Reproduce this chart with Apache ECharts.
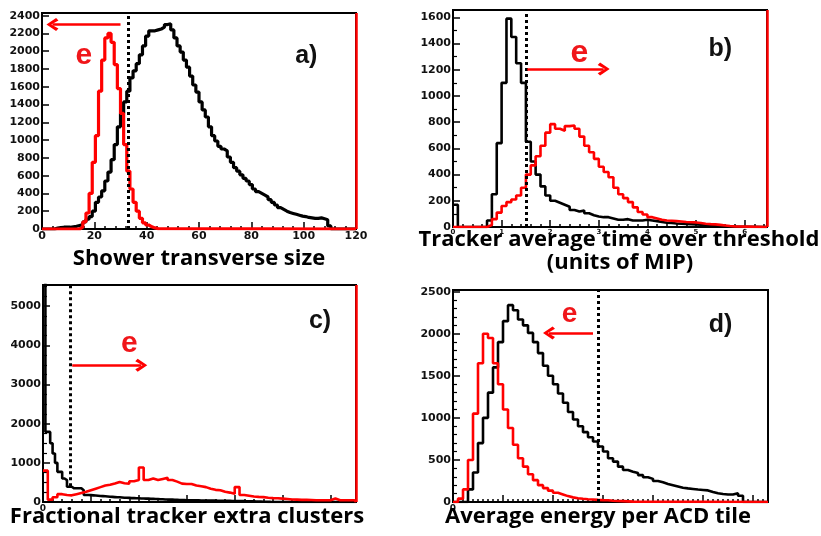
<!DOCTYPE html>
<html><head><meta charset="utf-8">
<script src="https://cdn.jsdelivr.net/npm/echarts@6/dist/echarts.min.js"></script>
<style>html,body{margin:0;padding:0;background:#fff}#c{width:821px;height:536px}</style>
</head><body><div id="c"></div><script>
// ---------- DATA ----------
// Panel a: Shower transverse size
const aXMax = 120, aYMax = 2430, aCut = 33;
const aBlackStart = 4.8, aBlackW = 1.2;
const aBlack = [10,15,20,20,20,25,30,40,
  50,80,110,140,200,300,360,430,540,640,
  780,950,1150,1300,1430,1550,1700,1780,1860,1960,
  2060,2170,2230,2230,2240,2250,2270,2300,2310,2240,
  2150,2060,1990,1900,1820,1720,1620,1540,1430,1340,
  1260,1150,1050,990,930,900,880,810,750,690,
  650,610,570,540,500,450,420,400,380,360,
  330,300,270,240,220,200,185,175,165,155,
  145,140,130,125,120,120,125,115,105,35];
const aRedStart = 14.4, aRedW = 1.2;
const aRed = [20,80,180,400,750,1050,1550,1900,2150,2200,2100,1850,1580,1300,950,650,450,300,200,120,70,45,25,12,5];

// Panel b: Tracker average time over threshold
const bXMax = 6.46, bYMax = 1656, bCut = 1.5;
const bBlackStart = 0, bBlackW = 0.1;
const bBlack = [170,0,0,0,0,0,0,50,250,640,1100,1590,1450,1250,1100,650,500,400,310,240,
  200,185,170,155,130,118,125,105,90,80,75,75,65,55,55,60,50,50,50,55,
  50,45,38,32,30,27,25,23,21,20,18,15,13,10,8,5,3];
const bRedStart = 0, bRedW = 0.1;
const bRed = [0,0,0,0,0,0,0,15,60,110,160,190,210,240,300,400,470,540,620,720,
  785,750,735,770,775,750,690,620,570,520,460,420,380,300,250,220,190,150,115,95,
  75,65,55,50,48,45,42,38,36,35,30,25,22,20,16,12,8,5];

// Panel c: Fractional tracker extra clusters
const cXMax = 0.653, cYMax = 5540, cCut = 0.057, cCutLow = 400;
const cBlackStart = 0, cBlackW = 0.005;
const cBlack = [5800,1790,1790,1500,1240,1000,770,770,600,560,
  390,390,350,350,350,350,300,180,180,175,
  170,165,160,155,150,145,140,135,130,125,
  120,120,115,110,110,105,100,100,95,95,
  90,90,85,85,80,80,75,75,70,70,
  65,65,60,60,55,55,50,50,48,46,
  45,44,43,42,41,40,39,38,37,36,
  35,34,33,32,31,30,29,28,27,26,
  25,24,23,22,21,20,18,16,14,12,
  10,8,6,4,2];
const cRedStart = 0, cRedW = 0.01;
const cRed = [800,60,120,200,180,170,200,230,260,300,
  340,380,420,440,470,510,480,470,530,560,
  880,560,600,560,590,620,560,520,470,460,
  460,420,400,380,340,310,300,260,240,210,
  380,180,160,140,130,125,110,100,95,85,
  75,65,60,55,55,50,45,45,45,45,
  90,45,45,45,45];

// Panel d: Average energy per ACD tile
const dXMax = 6.3, dYMax = 2520, dCut = 2.9;
const dBlackStart = 0, dBlackW = 0.1;
const dBlack = [0,0,0,150,350,700,1000,1300,1600,1900,
  2150,2340,2280,2170,2100,2010,1900,1770,1620,1500,
  1400,1290,1180,1070,980,900,830,770,720,660,
  600,520,480,420,380,360,345,320,295,275,
  250,235,215,200,185,170,162,155,148,143,
  138,120,105,95,89,89,105,75];
const dRedStart = 0, dRedW = 0.1;
const dRed = [0,40,150,500,1050,1650,2000,1950,1650,1400,
  1100,880,680,520,420,330,260,200,165,135,
  110,90,70,55,45,38,33,30,25,22,
  20,15,12,10,8,5];

const titles = [
  {text: 'Shower transverse size', cx: 199, y: 248},
  {text: 'Tracker average time over threshold', cx: 619, y: 229},
  {text: '(units of MIP)', cx: 620, y: 252},
  {text: 'Fractional tracker extra clusters', cx: 187, y: 506},
  {text: 'Average energy per ACD tile', cx: 598, y: 506}
];

// ---------- BUILD ----------
function hist(start, w, vals, xmin, xmax) {
  const pts = [];
  if (start > xmin) pts.push([xmin, 0]);
  vals.forEach((v, i) => pts.push([+(start + i * w).toFixed(6), v]));
  const end = +(start + vals.length * w).toFixed(6);
  pts.push([end, 0]);
  if (end < xmax) pts.push([xmax, 0]);
  return pts;
}
const RED = '#ff0000', BLK = '#000000';
const chevron = 'path://M0,10 L8,0 L16,10 L13,12.5 L8,5 L3,12.5 Z';
const tickFont = {fontFamily: 'DejaVu Sans', fontWeight: 'bold', fontSize: 11, color: '#111'};

const panels = [
  {grid: {left: 42, top: 13, width: 314, height: 216}, xMax: aXMax, yMax: aYMax,
   xInt: 20, xMinor: 5, yInt: 200, yMinor: 1, xLabel: v => (v % 20 === 0 ? String(v) : ''), xFont: 11,
   yLabel: v => (v % 200 === 0 ? String(v) : ''),
   black: hist(aBlackStart, aBlackW, aBlack, 0, aXMax), red: hist(aRedStart, aRedW, aRed, 0, aXMax),
   cut: [[{coord: [aCut, 0]}, {coord: [aCut, aYMax]}]], redEdge: true,
   arrow: [[aCut - 3, 2300], [4, 2300]], e: [16, 1950, 30], tag: ['a)', 101, 1950], lw: 3.2},
  {grid: {left: 453, top: 10, width: 314, height: 217}, xMax: bXMax, yMax: bYMax,
   xInt: 1, xMinor: 5, yInt: 200, yMinor: 2, xLabel: v => (Math.abs(v - Math.round(v)) < 1e-6 ? String(Math.round(v)) : ''), xFont: 7,
   yLabel: v => (v % 200 === 0 ? String(v) : ''),
   black: hist(bBlackStart, bBlackW, bBlack, 0, bXMax), red: hist(bRedStart, bRedW, bRed, 0, bXMax),
   cut: [[{coord: [bCut, 0]}, {coord: [bCut, bYMax]}]], redEdge: true,
   arrow: [[bCut + 0.03, 1205], [3.1, 1205]], e: [2.6, 1330, 32], tag: ['b)', 5.5, 1360], lw: 2.6},
  {grid: {left: 43, top: 285, width: 313, height: 217}, xMax: cXMax, yMax: cYMax,
   xInt: 0.1, xMinor: 5, yInt: 1000, yMinor: 4, xLabel: v => (v === 0 ? '0' : ''), xFont: 9,
   yLabel: v => (v % 1000 === 0 ? String(v) : ''),
   black: hist(cBlackStart, cBlackW, cBlack, 0, cXMax), red: hist(cRedStart, cRedW, cRed, 0, cXMax),
   cut: [[{coord: [cCut, cCutLow]}, {coord: [cCut, cYMax]}]], redEdge: true,
   arrow: [[cCut + 0.004, 3490], [0.205, 3490]], e: [0.18, 4050, 30], tag: ['c)', 0.578, 4620], lw: 2.6},
  {grid: {left: 453, top: 290, width: 315, height: 212}, xMax: dXMax, yMax: dYMax,
   xInt: 1, xMinor: 10, yInt: 500, yMinor: 5, xLabel: v => (v === 0 ? '0' : ''), xFont: 9,
   yLabel: v => (v % 500 === 0 ? String(v) : ''),
   black: hist(dBlackStart, dBlackW, dBlack, 0, dXMax), red: hist(dRedStart, dRedW, dRed, 0, dXMax),
   cut: [[{coord: [dCut, 0]}, {coord: [dCut, dYMax]}]], redEdge: false,
   arrow: [[2.8, 2010], [1.92, 2010]], e: [2.33, 2230, 28], tag: ['d)', 5.35, 2105], lw: 2.6}
];

const option = {animation: false, grid: [], xAxis: [], yAxis: [], series: [], graphic: []};
panels.forEach((p, i) => {
  option.grid.push(Object.assign({show: true, borderColor: BLK, borderWidth: 2, backgroundColor: 'transparent'}, p.grid));
  option.xAxis.push({type: 'value', gridIndex: i, min: 0, max: p.xMax, interval: p.xInt,
    axisLine: {show: true, onZero: false, lineStyle: {color: BLK, width: 2}},
    axisTick: {show: true, inside: true, length: 7, lineStyle: {color: BLK, width: 1.5}},
    minorTick: {show: true, splitNumber: p.xMinor, length: 3, lineStyle: {color: BLK, width: 1.5}},
    splitLine: {show: false},
    axisLabel: Object.assign({}, tickFont, {fontSize: p.xFont, margin: 2, formatter: p.xLabel, showMaxLabel: true, hideOverlap: false})});
  option.yAxis.push({type: 'value', gridIndex: i, min: 0, max: p.yMax, interval: p.yInt,
    axisLine: {show: true, lineStyle: {color: BLK, width: 2}},
    axisTick: {show: true, inside: true, length: 7, lineStyle: {color: BLK, width: 1.5}},
    minorTick: {show: p.yMinor > 1, splitNumber: p.yMinor, length: 4, lineStyle: {color: BLK, width: 1.2}},
    splitLine: {show: false},
    axisLabel: Object.assign({}, tickFont, {margin: 2, formatter: p.yLabel, showMaxLabel: false})});
  option.series.push({type: 'line', step: 'end', xAxisIndex: i, yAxisIndex: i, data: p.black,
    symbol: 'none', lineStyle: {color: BLK, width: p.lw}, z: 3, silent: true,
    markLine: {silent: true, symbol: 'none', animation: false, label: {show: false},
      lineStyle: {color: BLK, width: 3, type: [3, 3]}, data: p.cut},
    markPoint: {silent: true, symbol: 'circle', symbolSize: 1, itemStyle: {color: 'transparent'},
      data: [{coord: [p.tag[1], p.tag[2]], value: p.tag[0],
        label: {show: true, position: 'inside', formatter: p.tag[0], fontFamily: 'Liberation Sans', fontWeight: 'bold', fontSize: 25, color: '#111'}}]}});
  const redLines = [[{coord: p.arrow[0], symbol: 'none'}, {coord: p.arrow[1], symbol: chevron, symbolSize: [13, 12]}]];
  if (p.redEdge) redLines.push([{coord: [p.xMax, 0], symbol: 'none'}, {coord: [p.xMax, p.yMax], symbol: 'none'}]);
  option.series.push({type: 'line', step: 'end', xAxisIndex: i, yAxisIndex: i, data: p.red,
    symbol: 'none', lineStyle: {color: RED, width: p.lw}, z: 4, silent: true,
    markLine: {silent: true, symbol: 'none', animation: false, label: {show: false},
      lineStyle: {color: RED, width: 2.5, type: 'solid'}, data: redLines},
    markPoint: {silent: true, symbol: 'circle', symbolSize: 1, itemStyle: {color: 'transparent'},
      data: [{coord: [p.e[0], p.e[1]], value: 'e',
        label: {show: true, position: 'inside', formatter: 'e', fontFamily: 'Liberation Sans', fontWeight: 'bold', fontSize: p.e[2], color: '#f0161a'}}]}});
});
titles.forEach(t => option.graphic.push({type: 'text', x: t.cx, y: t.y, z: 10,
  style: {text: t.text, fill: '#000', font: 'bold 22px "Open Sans"', textAlign: 'center', textVerticalAlign: 'top'}}));

const chart = echarts.init(document.getElementById('c'), null, {renderer: 'canvas'});
chart.setOption(option);
</script></body></html>
